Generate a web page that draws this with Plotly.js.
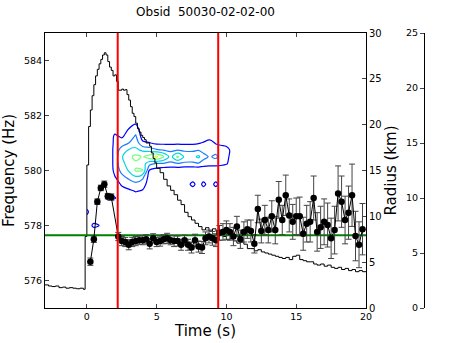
<!DOCTYPE html>
<html><head><meta charset="utf-8">
<script src="https://cdn.plot.ly/plotly-3.0.1.min.js"></script>
<style>html,body{margin:0;padding:0;background:#fff}#chart{width:457px;height:343px}</style>
</head><body><div id="chart"></div>
<script>
const chartTitle = 'Obsid\u00a0\u00a050030-02-02-00';

// Burst light curve (count rate, right-most axis)
const lcTime = [-3.0,-2.75,-2.5,-2.25,-2.0,-1.75,-1.5,-1.25,-1.0,-0.75,-0.5,-0.25,
  -0.125,0.0,0.125,0.25,0.375,0.5,0.625,0.75,0.875,1.0,1.125,1.25,1.375,1.5,1.625,1.75,1.875,2.0,2.125,2.25,
  2.375,2.5,2.625,2.75,2.875,3.0,3.125,3.25,3.375,3.5,3.625,3.75,3.875,4.0,4.125,4.25,
  4.5,4.625,4.75,4.875,5.0,
  5.25,5.5,5.75,6.0,6.25,6.5,6.75,7.0,7.25,7.5,7.75,8.0,8.25,8.5,8.75,9.0,9.25,9.5,9.75,10.0,
  10.25,10.5,10.75,11.0,11.25,11.5,11.75,12.0,12.25,12.5,12.75,13.0,13.25,13.5,13.75,14.0,14.25,14.5,14.75,15.0,
  15.25,15.5,15.75,16.0,16.25,16.5,16.75,17.0,17.25,17.5,17.75,18.0,18.25,18.5,18.75,19.0,19.25,19.5,19.75,20.0];
const lcRate = [2.1,2.0,1.95,2.0,1.85,1.9,1.8,1.85,1.8,1.75,1.8,1.7,
  6.5,13.0,16.5,18.0,19.3,20.3,21.1,21.7,22.2,22.6,23.0,23.2,23.0,22.4,21.9,21.6,21.1,21.2,20.6,19.8,
  19.8,19.9,19.8,19.85,19.4,18.9,18.3,17.7,17.4,16.8,16.3,16.0,15.7,15.5,15.3,15.0,
  14.7,14.1,13.6,13.2,12.7,
  12.3,11.7,11.1,10.7,10.3,9.8,9.4,8.7,8.3,8.0,7.7,7.4,7.1,7.3,7.0,7.2,7.0,6.9,6.5,6.2,
  6.3,6.1,5.9,6.0,5.8,5.4,5.4,5.2,5.3,5.1,5.0,4.9,4.8,4.7,4.6,4.5,4.6,4.4,4.7,4.8,
  4.4,4.3,4.2,4.2,4.0,3.9,4.0,3.8,3.9,3.7,3.6,3.7,3.5,3.6,3.4,3.5,3.3,3.4,3.3,3.3];

// Blackbody radius (km)
const radTime = [0.25,0.5,0.75,1.0,1.25,1.5,1.75,
  2.25,2.5,2.75,3.0,3.25,3.5,3.75,4.0,4.25,4.5,4.75,5.0,5.25,5.5,5.75,6.0,6.25,6.5,6.75,7.0,7.25,7.5,7.75,8.0,8.25,8.5,8.75,9.0,9.25,9.5,
  9.75,10.0,10.25,10.5,10.75,11.0,11.25,11.5,11.75,12.0,12.25,12.5,12.75,13.0,13.25,13.5,13.75,14.0,14.25,14.5,
  14.75,15.0,15.25,15.5,15.75,16.0,16.25,16.5,16.75,17.0,17.25,17.5,17.75,18.0,18.25,18.5,18.75,19.0,19.25,19.5,19.75];
const radius = [5.05,7.5,11.6,13.1,13.5,12.2,12.1,
  7.8,7.3,7.2,6.9,7.2,7.3,7.4,7.4,7.5,7.0,7.6,7.2,7.3,7.5,7.6,7.4,7.3,7.3,6.9,7.4,6.9,6.6,7.4,6.7,6.6,7.6,7.8,7.6,7.4,8.2,
  8.3,8.5,8.3,7.8,8.9,7.5,8.3,8.6,8.4,7.0,10.8,8.4,9.6,8.5,10.0,8.5,11.8,9.6,12.3,10.1,
  9.4,10.0,10.0,8.1,9.2,9.4,12.0,8.3,8.8,9.4,9.05,7.6,8.5,12.5,11.6,9.6,10.4,12.3,7.85,6.9,8.6];
const radiusErr = [0.4,0.35,0.3,0.3,0.35,0.3,0.35,
  0.45,0.5,0.5,0.55,0.5,0.5,0.45,0.5,0.5,0.55,0.5,0.5,0.55,0.5,0.55,0.5,0.6,0.55,0.6,0.55,0.6,0.6,0.65,0.6,0.65,0.7,0.7,0.75,0.7,0.8,
  0.9,1.0,0.9,1.0,1.1,1.0,1.1,1.0,1.2,1.0,1.5,1.3,1.6,1.4,1.7,1.5,2.0,1.6,2.2,1.8,
  1.9,2.0,2.1,1.8,2.0,2.2,2.4,2.1,2.3,2.5,2.4,2.2,2.6,3.0,2.8,2.6,2.9,3.4,2.7,2.5,2.8];
const meanRadius = 7.93;
const markerTimes = [2.21, 9.41];

// Dynamic power spectrum: one column of power per time bin, over the frequency rows
const dpsTime = [0,0.5,1.0,1.5,2.0,2.5,3.0,3.5,4.0,4.5,5.0,5.5,6.0,6.5,7.0,7.6,8.0,8.35,8.8,9.25,9.6,10.0,10.4,10.8];
const dpsFreq = [577.75,578.0,578.25,578.5,578.75,579.0,579.25,579.5,579.75,580.0,580.25,580.5,580.75,581.0,581.25,581.5,581.75,582.0];
const dpsPower = [
  [0,0.2,0.6,1.3,0.4,0,0,0,0,0,0,0,0,0,0,0,0,0],
  [0.2,1.3,0.3,0,0,0,0,0,0,0,0,0,0,0,0,0,0,0],
  [0.1,0.9,0.1,0,0,0,0,0,0,0,0,0,0,0,0,0,0,0],
  [0,0,0,0,0.2,1.3,0.3,0,0,0,0,0,0,0,0,0,0,0],
  [0,0,0,0,0.2,1.1,0.4,0.6,0.9,1.3,1.4,1.4,1.4,1.3,1.2,0.5,0.2,0],
  [0,0,0,0,0.1,0.3,0.7,1.1,1.7,2.3,2.7,2.9,2.4,1.6,0.8,0.3,0.1,0],
  [0,0,0,0,0.1,0.4,0.8,1.5,2.2,3.1,3.4,3.7,3.05,2.0,1.5,1.05,0.4,0],
  [0,0,0,0,0.2,0.6,1.05,1.7,2.8,4.1,3.8,4.3,3.2,2.6,2.1,1.6,0.8,0.2],
  [0,0,0,0,0.1,0.5,0.9,1.4,2.2,4.05,3.5,3.9,2.8,1.2,0.5,0.2,0,0],
  [0,0,0,0,0,0.1,0.2,0.5,0.5,0.8,2.3,4.6,2.5,1.05,0.4,0.1,0,0],
  [0,0,0,0,0,0,0.1,0.2,0.3,0.5,1.9,5.2,2.1,0.8,0.3,0,0,0],
  [0,0,0,0,0,0,0,0.1,0.2,0.3,1.9,4.1,1.9,0.8,0.2,0,0,0],
  [0,0,0,0,0,0,0,0,0.2,0.2,1.8,2.6,1.8,0.8,0.2,0,0,0],
  [0,0,0,0,0,0,0,0,0.3,0.2,1.95,4.2,1.95,0.8,0.2,0,0,0],
  [0,0,0,0,0,0,0,0.2,0,0.1,1.8,2.8,1.8,0.8,0.2,0,0,0],
  [0,0,0,0,0,0,0.2,1.4,0.2,0.1,1.8,2.7,1.8,0.8,0.2,0,0,0],
  [0,0,0,0,0,0,0,0.3,0,0.1,1.9,3.2,1.9,0.9,0.2,0,0,0],
  [0,0,0,0,0,0,0.2,1.4,0.2,0.1,1.6,2.3,1.7,1.1,0.3,0,0,0],
  [0,0,0,0,0,0,0,0.3,0,0.2,1.4,1.9,1.8,1.4,0.5,0,0,0],
  [0,0,0,0,0,0,0.2,1.4,0.2,0.2,1.4,2.2,1.6,0.9,0.3,0,0,0],
  [0,0,0,0,0,0,0,0.2,0,0.2,1.3,1.5,1.6,0.7,0.2,0,0,0],
  [0,0,0,0,0,0,0,0,0,0,1.1,1.3,1.4,0.6,0.1,0,0,0],
  [0,0,0,0,0,0,0,0,0,0,0.5,0.6,0.7,0.3,0,0,0,0],
  [0,0,0,0,0,0,0,0,0,0,0,0,0,0,0,0,0,0]
];
const contourLevels = [1,2,3,4,5];
const contourColors = ['#0000ff','#1a7cff','#00d2e6','#74ff7e','#d4ff30'];

const traces = [];
contourLevels.forEach((lv, i) => {
  traces.push({
    type: 'contour', x: dpsTime, y: dpsFreq, z: dpsPower, transpose: true,
    autocontour: false,
    contours: {start: lv, end: lv, size: 1, coloring: 'none'},
    line: {color: contourColors[i], width: 1.2, smoothing: 1},
    showscale: false, hoverinfo: 'skip', xaxis: 'x', yaxis: 'y'
  });
});
traces.push({
  type: 'scatter', mode: 'lines', x: lcTime, y: lcRate,
  line: {shape: 'hv', color: '#000', width: 1},
  xaxis: 'x', yaxis: 'y2', hoverinfo: 'skip'
});
traces.push({
  type: 'scatter', mode: 'lines', x: [-3, 20], y: [meanRadius, meanRadius],
  line: {color: '#008000', width: 2}, xaxis: 'x', yaxis: 'y3', hoverinfo: 'skip'
});
traces.push({
  type: 'scatter', mode: 'lines+markers', x: radTime, y: radius,
  error_y: {type: 'data', array: radiusErr, visible: true, color: '#444', thickness: 1, width: 3},
  marker: {color: '#000', size: 6.5},
  line: {color: '#000', width: 1},
  xaxis: 'x', yaxis: 'y3', hoverinfo: 'skip'
});

const shapes = markerTimes.map(t => ({
  type: 'line', xref: 'x', yref: 'paper', x0: t, x1: t, y0: 0, y1: 1,
  line: {color: '#ff0000', width: 2}, layer: 'above'
}));

const xDomEnd = 321/385;
const layout = {
  width: 457, height: 343,
  margin: {l: 45, r: 27, t: 33, b: 35},
  paper_bgcolor: '#fff', plot_bgcolor: '#fff',
  font: {family: 'DejaVu Sans', color: '#000', size: 9.5},
  showlegend: false,
  title: {text: chartTitle, font: {size: 12}, xref: 'paper', x: 0.5*xDomEnd, xanchor: 'center',
          yref: 'container', y: 1 - 12/343, yanchor: 'middle'},
  xaxis: {domain: [0, xDomEnd], range: [-3, 20], tick0: 0, dtick: 5, ticks: 'inside', ticklen: 4,
          showline: true, linecolor: '#000', linewidth: 1, mirror: 'ticks', showgrid: false, zeroline: false,
          tickfont: {size: 9.5}, title: {text: 'Time (s)', font: {size: 15}, standoff: 2}},
  yaxis: {range: [575, 585], tick0: 576, dtick: 2, ticks: 'inside', ticklen: 4,
          showline: true, linecolor: '#000', linewidth: 1, mirror: true, showgrid: false, zeroline: false,
          tickfont: {size: 9.5}, title: {text: 'Frequency (Hz)', font: {size: 15}, standoff: 8}},
  yaxis2: {overlaying: 'y', anchor: 'free', position: (424-45)/385, side: 'left', range: [0, 25], dtick: 5,
           ticks: 'outside', ticklen: 4, showline: true, linecolor: '#000', linewidth: 1,
           showgrid: false, zeroline: false, tickfont: {size: 9.5}},
  yaxis3: {overlaying: 'y', anchor: 'x', side: 'right', range: [0, 30], dtick: 5,
           ticks: 'inside', ticklen: 4, showline: true, linecolor: '#000', linewidth: 1,
           showgrid: false, zeroline: false, tickfont: {size: 10},
           title: {text: 'Radius (km)', font: {size: 15}, standoff: 4}},
  shapes: shapes
};
Plotly.newPlot('chart', traces, layout, {staticPlot: true, displayModeBar: false});
</script></body></html>
